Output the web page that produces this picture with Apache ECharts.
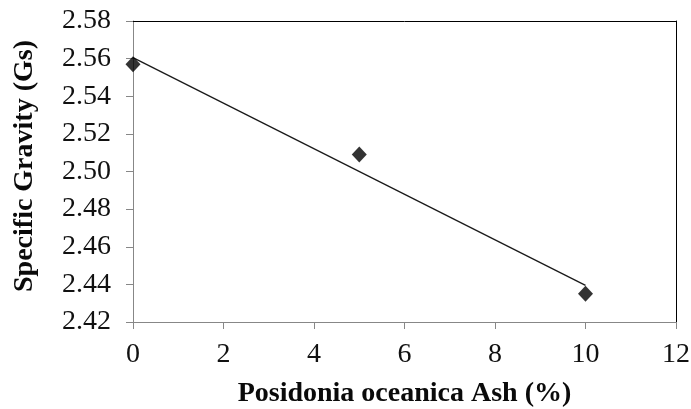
<!DOCTYPE html>
<html>
<head>
<meta charset="utf-8">
<script src="https://cdn.jsdelivr.net/npm/echarts@6/dist/echarts.min.js"></script>
<style>html,body{margin:0;padding:0;background:#fff}#c{width:691px;height:409px}</style>
</head>
<body>
<div id="c"></div>
<script>
var ashPercent = [0, 5, 10];
var specificGravity = [2.557, 2.509, 2.435];
var trendX = [0, 10];
var trendY = [2.5605, 2.4395];
var xTicks = [0, 2, 4, 6, 8, 10, 12];
var yTicks = [2.42, 2.44, 2.46, 2.48, 2.50, 2.52, 2.54, 2.56, 2.58];

var chart = echarts.init(document.getElementById('c'), null, {renderer: 'canvas'});
var font = '"Liberation Serif", "Times New Roman", serif';
var axisGray = '#878787';
chart.setOption({
  animation: false,
  backgroundColor: '#fff',
  grid: {left: 133, right: 15, top: 21, bottom: 87, containLabel: false, outerBoundsMode: 'none'},
  xAxis: [{
    type: 'value', min: xTicks[0], max: xTicks[xTicks.length - 1], interval: 2,
    name: 'Posidonia oceanica Ash (%)', nameLocation: 'middle', nameGap: 58,
    nameTextStyle: {fontFamily: font, fontWeight: 'bold', fontSize: 28, color: '#0a0a0a'},
    axisLine: {show: true, lineStyle: {color: axisGray, width: 1}},
    axisTick: {show: true, inside: false, length: 7, lineStyle: {color: axisGray}},
    axisLabel: {fontFamily: font, fontSize: 28, color: '#111', margin: 19},
    splitLine: {show: false}
  }, {
    type: 'value', position: 'top', min: xTicks[0], max: xTicks[xTicks.length - 1], interval: 2,
    axisLine: {show: true, onZero: false, lineStyle: {color: '#000', width: 1}},
    axisTick: {show: false}, axisLabel: {show: false}, splitLine: {show: false}
  }],
  yAxis: [{
    type: 'value', min: yTicks[0], max: yTicks[yTicks.length - 1], interval: 0.02,
    name: 'Specific Gravity (Gs)', nameLocation: 'middle', nameGap: 94, nameRotate: 90,
    nameTextStyle: {fontFamily: font, fontWeight: 'bold', fontSize: 28, color: '#0a0a0a',
      padding: [0, 0, 0, 11]},
    axisLine: {show: true, lineStyle: {color: axisGray, width: 1}},
    axisTick: {show: true, inside: false, length: 7, lineStyle: {color: axisGray}},
    axisLabel: {fontFamily: font, fontSize: 28, color: '#111', margin: 22,
      formatter: function (v) { return v.toFixed(2); }},
    splitLine: {show: false}
  }, {
    type: 'value', position: 'right', min: yTicks[0], max: yTicks[yTicks.length - 1], interval: 0.02,
    axisLine: {show: true, onZero: false, lineStyle: {color: '#000', width: 1}},
    axisTick: {show: false}, axisLabel: {show: false}, splitLine: {show: false}
  }],
  series: [{
    type: 'line',
    data: trendX.map(function (x, i) { return [x, trendY[i]]; }),
    showSymbol: false, symbol: 'none',
    lineStyle: {color: '#1a1a1a', width: 1.3},
    z: 2
  }, {
    type: 'scatter',
    data: ashPercent.map(function (x, i) { return [x, specificGravity[i]]; }),
    symbol: 'diamond', symbolSize: [15, 16],
    itemStyle: {color: '#000'},
    z: 3
  }]
});
</script>
</body>
</html>
